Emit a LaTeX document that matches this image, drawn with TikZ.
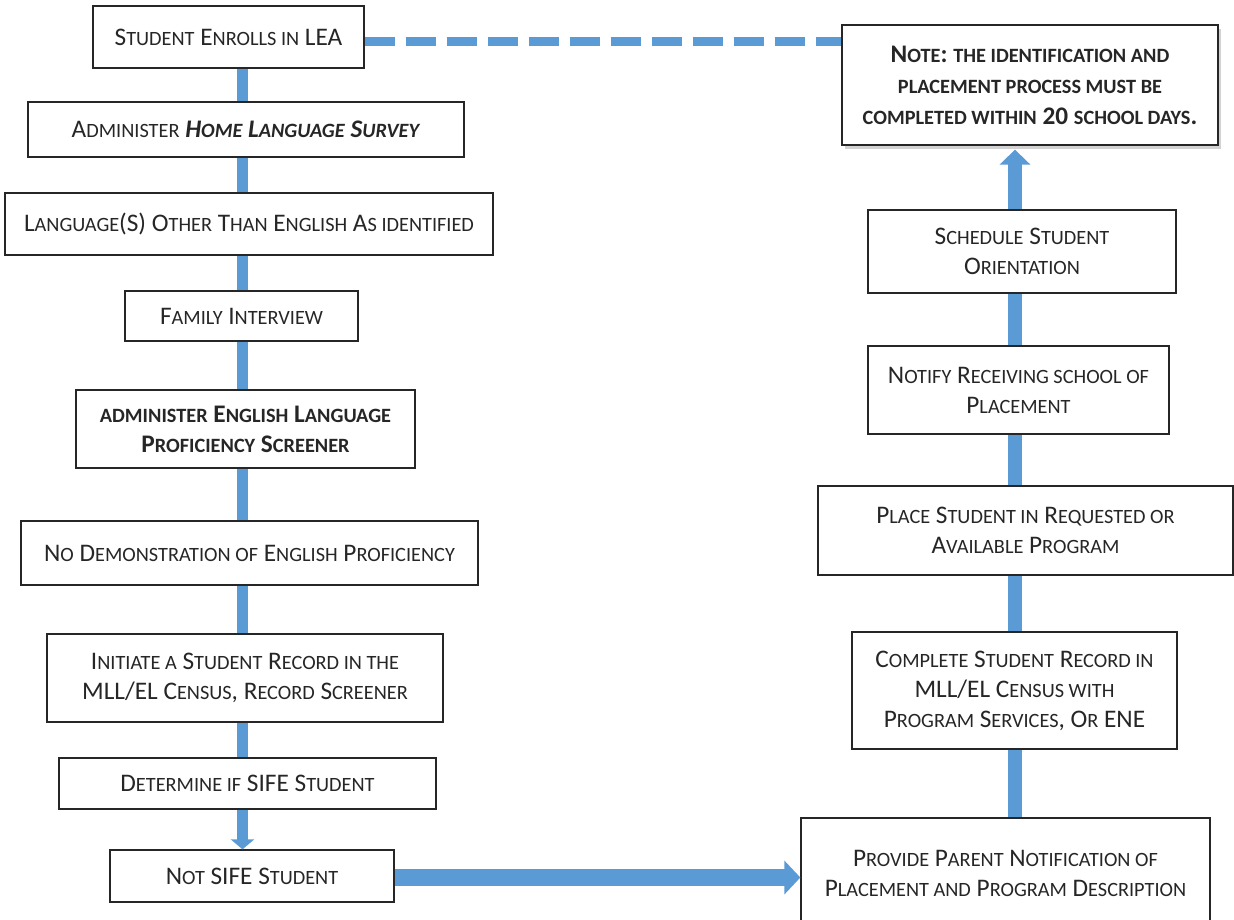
\documentclass[tikz,border=0pt]{standalone}
\usepackage{fontspec}
\setmainfont{Carlito}
\usetikzlibrary{arrows.meta,shadows}
\definecolor{flowblue}{HTML}{5B9BD5}
\definecolor{boxline}{HTML}{262626}
\newcommand\sm[1]{{\fontsize{20.3}{30}\selectfont #1}}
\tikzset{
  flowbox/.style={draw=boxline, line width=1.3pt, fill=white, inner sep=0pt,
    align=center, font=\fontsize{25.3}{30}\selectfont, text=black!85},
  leftconn/.style={draw=flowblue, line width=11pt},
  rightconn/.style={draw=flowblue, line width=14pt},
  dashline/.style={draw=flowblue, line width=9pt, dash pattern=on 30.5pt off 10.5pt},
}
\begin{document}
\begin{tikzpicture}[x=1pt,y=-1pt]
\useasboundingbox (0,0) rectangle (1234,919);
\fill[white] (0,0) rectangle (1234,919);
\coordinate (lx) at (242.5,0);
\coordinate (rx) at (1015,0);
\coordinate (dy) at (0,41.5);
\coordinate (hy) at (0,877.5);

% left column
\node[flowbox, minimum width=271pt, minimum height=62pt] (enroll) at (228.5,37)
  {S\sm{TUDENT} E\sm{NROLLS IN} LEA};
\node[flowbox, minimum width=436pt, minimum height=55pt] (hls) at (246,129.5)
  {A\sm{DMINISTER} \textbf{\textit{H\sm{OME} L\sm{ANGUAGE} S\sm{URVEY}}}};
\node[flowbox, minimum width=488pt, minimum height=62pt] (lang) at (249,224)
  {L\sm{ANGUAGE}(S) O\sm{THER} T\sm{HAN} E\sm{NGLISH} A\sm{S IDENTIFIED}};
\node[flowbox, minimum width=233pt, minimum height=50pt] (family) at (241.5,316)
  {F\sm{AMILY} I\sm{NTERVIEW}};
\node[flowbox, minimum width=339pt, minimum height=78pt, font=\bfseries\fontsize{25.3}{30}\selectfont] (elp) at (245.5,429)
  {\sm{ADMINISTER} E\sm{NGLISH} L\sm{ANGUAGE}\\ P\sm{ROFICIENCY} S\sm{CREENER}};
\node[flowbox, minimum width=457pt, minimum height=64pt] (nodemo) at (249.5,553)
  {N\sm{O} D\sm{EMONSTRATION OF} E\sm{NGLISH} P\sm{ROFICIENCY}};
\node[flowbox, minimum width=396pt, minimum height=88pt] (initiate) at (245,678)
  {I\sm{NITIATE A} S\sm{TUDENT} R\sm{ECORD IN THE}\\ MLL/EL C\sm{ENSUS}, R\sm{ECORD} S\sm{CREENER}};
\node[flowbox, minimum width=377pt, minimum height=51pt] (sife) at (247.5,783.5)
  {D\sm{ETERMINE IF} SIFE S\sm{TUDENT}};
\node[flowbox, minimum width=284pt, minimum height=52pt] (notsife) at (252,876)
  {N\sm{OT} SIFE S\sm{TUDENT}};

% right column
\node[flowbox, minimum width=376pt, minimum height=120pt, font=\bfseries\fontsize{25.3}{31}\selectfont,
  drop shadow={opacity=0.35, shadow xshift=3pt, shadow yshift=-4pt}] (note) at (1030,85)
  {N\sm{OTE}: \sm{THE IDENTIFICATION AND}\\ \sm{PLACEMENT PROCESS MUST BE}\\ \sm{COMPLETED WITHIN} 20 \sm{SCHOOL DAYS}.};
\node[flowbox, minimum width=308pt, minimum height=83pt] (orient) at (1022,251.5)
  {S\sm{CHEDULE} S\sm{TUDENT}\\ O\sm{RIENTATION}};
\node[flowbox, minimum width=301pt, minimum height=88pt] (notify) at (1018.5,390)
  {N\sm{OTIFY} R\sm{ECEIVING SCHOOL OF}\\ P\sm{LACEMENT}};
\node[flowbox, minimum width=415pt, minimum height=89pt] (place) at (1025.5,530.5)
  {P\sm{LACE} S\sm{TUDENT IN} R\sm{EQUESTED OR}\\ A\sm{VAILABLE} P\sm{ROGRAM}};
\node[flowbox, minimum width=325pt, minimum height=117pt] (complete) at (1014.5,690.5)
  {C\sm{OMPLETE} S\sm{TUDENT} R\sm{ECORD IN}\\ MLL/EL C\sm{ENSUS WITH}\\ P\sm{ROGRAM} S\sm{ERVICES}, O\sm{R} ENE};
\node[flowbox, minimum width=409pt, minimum height=110pt] (provide) at (1005.5,873)
  {P\sm{ROVIDE} P\sm{ARENT} N\sm{OTIFICATION OF}\\ P\sm{LACEMENT AND} P\sm{ROGRAM} D\sm{ESCRIPTION}};

% left connectors
\draw[leftconn] (enroll.south -| lx) -- (hls.north -| lx);
\draw[leftconn] (hls.south -| lx) -- (lang.north -| lx);
\draw[leftconn] (lang.south -| lx) -- (family.north -| lx);
\draw[leftconn] (family.south -| lx) -- (elp.north -| lx);
\draw[leftconn] (elp.south -| lx) -- (nodemo.north -| lx);
\draw[leftconn] (nodemo.south -| lx) -- (initiate.north -| lx);
\draw[leftconn] (initiate.south -| lx) -- (sife.north -| lx);
\draw[leftconn, -{Triangle[width=23pt,length=10pt]}] (sife.south -| lx) -- (notsife.north -| lx);

% bottom arrow
\draw[draw=flowblue, line width=17pt, -{Triangle[width=33pt,length=16pt]}]
  (notsife.east |- hy) -- (provide.west |- hy);

% right connectors
\draw[rightconn] (provide.north -| rx) -- (complete.south -| rx);
\draw[rightconn] (complete.north -| rx) -- (place.south -| rx);
\draw[rightconn] (place.north -| rx) -- (notify.south -| rx);
\draw[rightconn] (notify.north -| rx) -- (orient.south -| rx);
\draw[rightconn, -{Triangle[width=30pt,length=15pt]}, shorten >=4pt] (orient.north -| rx) -- (note.south -| rx);

% dashed link
\draw[dashline] (enroll.east |- dy) -- (note.west |- dy);
\end{tikzpicture}
\end{document}
